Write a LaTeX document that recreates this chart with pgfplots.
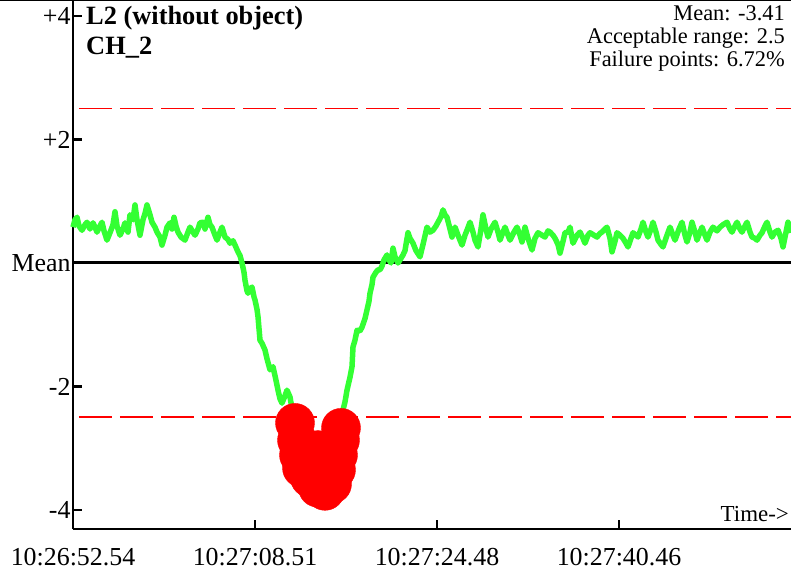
\documentclass[border=0pt]{standalone}
\usepackage{pgfplots}
\pgfplotsset{compat=1.18}
\usepackage{pgfplotstable}
\usepackage{fontspec}
\setmainfont{Liberation Serif}
\definecolor{sig}{RGB}{51,255,51}
\pgfplotstableread{
x y
0 0.58
2 0.70
4 0.74
6 0.60
9 0.53
12 0.62
14 0.66
17 0.55
20 0.65
22 0.58
24 0.50
27 0.60
29 0.66
31 0.52
34 0.37
37 0.49
40 0.62
42 0.83
44 0.60
47 0.45
50 0.55
52 0.65
55 0.50
57 0.78
60 0.70
62 0.94
64 0.70
67 0.45
70 0.70
72 0.80
74 0.94
77 0.78
79 0.66
82 0.58
84 0.50
87 0.42
89 0.29
92 0.45
94 0.58
97 0.65
99 0.55
101 0.74
103 0.60
105 0.50
108 0.42
112 0.37
115 0.50
117 0.58
120 0.50
122 0.45
125 0.55
127 0.65
130 0.66
132 0.55
135 0.74
137 0.62
139 0.58
142 0.45
144 0.37
147 0.50
149 0.58
152 0.42
155 0.38
157 0.32
160 0.36
162 0.29
165 0.18
167 0.12
169 0.00
171 -0.15
172 -0.28
174 -0.45
175 -0.49
177 -0.42
179 -0.39
181 -0.55
182 -0.60
184 -0.75
185 -0.87
187 -1.25
189 -1.30
192 -1.41
194 -1.55
197 -1.73
200 -1.68
203 -1.90
205 -2.06
207 -2.20
209 -2.27
212 -2.15
214 -2.06
217 -2.17
220 -2.45
223 -2.59
225 -2.87
227 -3.11
230 -3.32
237 -3.48
245 -3.64
252 -3.69
259 -3.58
263 -3.35
265 -3.11
267 -2.87
268 -2.67
270 -2.38
272 -2.25
274 -2.06
277 -1.85
279 -1.68
280 -1.36
282 -1.25
284 -1.09
287 -1.10
289 -1.04
292 -0.90
294 -0.76
296 -0.62
297 -0.49
299 -0.35
300 -0.23
303 -0.15
305 -0.11
307 -0.11
309 -0.05
311 0.05
314 0.13
316 0.05
318 0.00
320 0.24
322 0.10
325 0.00
327 0.05
330 0.13
332 0.20
335 0.49
337 0.40
340 0.32
343 0.20
347 0.10
350 0.30
354 0.58
357 0.50
360 0.53
363 0.60
365 0.66
368 0.75
370 0.86
372 0.78
374 0.74
377 0.55
379 0.42
382 0.58
385 0.45
389 0.29
392 0.45
394 0.53
397 0.66
400 0.50
402 0.37
405 0.26
408 0.55
410 0.78
413 0.55
415 0.42
418 0.55
422 0.66
425 0.50
427 0.37
430 0.50
432 0.58
435 0.45
437 0.37
441 0.50
444 0.58
447 0.45
449 0.34
452 0.58
455 0.40
459 0.21
462 0.40
465 0.49
469 0.45
472 0.42
475 0.52
477 0.50
480 0.45
482 0.40
485 0.30
487 0.16
490 0.35
492 0.49
495 0.50
497 0.58
500 0.32
504 0.45
507 0.50
510 0.40
512 0.32
515 0.45
517 0.49
521 0.45
524 0.42
527 0.48
529 0.50
532 0.55
534 0.58
537 0.40
539 0.18
542 0.35
544 0.49
547 0.45
550 0.40
553 0.32
555 0.26
558 0.40
560 0.49
563 0.45
565 0.42
568 0.55
570 0.66
573 0.50
575 0.42
578 0.55
580 0.66
583 0.50
585 0.37
588 0.30
590 0.26
594 0.45
597 0.58
600 0.45
602 0.37
606 0.55
609 0.66
612 0.45
614 0.34
617 0.50
619 0.66
622 0.50
624 0.37
627 0.50
629 0.58
632 0.45
634 0.37
637 0.50
640 0.58
644 0.52
647 0.58
650 0.62
654 0.66
657 0.55
659 0.50
662 0.60
664 0.66
667 0.55
669 0.50
672 0.60
674 0.66
677 0.50
679 0.42
682 0.40
684 0.37
687 0.45
689 0.49
692 0.60
694 0.66
697 0.50
699 0.42
702 0.50
705 0.53
708 0.40
710 0.26
713 0.50
715 0.66
717 0.55
718 0.49
}\signal
\pgfplotstableread{
x y
222 -2.59
224 -2.87
226 -3.11
229 -3.32
237 -3.24
237 -3.48
245 -3.03
245 -3.64
252 -3.69
252 -3.20
259 -3.58
263 -3.35
265 -3.11
267 -2.87
268 -2.67
}\failures
\begin{document}
\begin{tikzpicture}
\begin{axis}[
  scale only axis,
  width=718bp, height=529bp,
  xmin=0, xmax=718,
  ymin=-4.308, ymax=4.259,
  axis x line*=bottom, axis y line*=left,
  axis line style={line width=2.5bp, black},
  xtick={0,182,364,546},
  xticklabels={10:26:52.54,10:27:08.51,10:27:24.48,10:27:40.46},
  ytick={-4,-2,0,2,4},
  yticklabels={-4,-2,Mean,+2,+4},
  tick align=inside,
  major tick length=9bp,
  tick style={line width=2.5bp, black},
  ticklabel style={font=\fontsize{26}{30}\selectfont},
  xticklabel style={yshift=-16bp},
  yticklabel style={xshift=1bp},
  clip=false,
]
\addplot[color=red, line width=1.6bp, dash pattern=on 33bp off 8bp, dash phase=35bp] coordinates {(0,2.5)(718,2.5)};
\addplot[color=red, line width=1.6bp, dash pattern=on 33bp off 8bp, dash phase=35bp] coordinates {(0,-2.49)(718,-2.49)};
\addplot[color=black, line width=3bp] coordinates {(0,0)(718,0)};
\addplot[color=sig, line width=5.5bp, line join=round] table[x=x,y=y] {\signal};
\addplot[only marks, mark=*, mark size=19.5bp, color=red, mark options={draw=red, fill=red}] table[x=x,y=y] {\failures};
\node[anchor=north west, inner sep=0pt, align=left, font=\fontsize{26.5}{30}\selectfont\bfseries]
  at ([xshift=13bp,yshift=-6bp]rel axis cs:0,1) {L2 (without object)\\CH\_2};
\node[anchor=north east, inner sep=0pt, align=right, font=\fontsize{22.5}{23.5}\selectfont]
  at ([xshift=-6bp,yshift=-5bp]rel axis cs:1,1) {Mean: -3.41\\Acceptable range: 2.5\\Failure points: 6.72\%};
\node[anchor=south east, inner sep=0pt, font=\fontsize{23}{26}\selectfont]
  at ([xshift=-2bp,yshift=7bp]rel axis cs:1,0) {Time->};
\end{axis}
\draw[line width=2.5bp] ([xshift=-80bp]current axis.north west) -- ([xshift=5bp]current axis.north east);
\pgfresetboundingbox
\path[use as bounding box] ([xshift=-73bp,yshift=-53bp]current axis.south west) rectangle (current axis.north east);
\end{tikzpicture}
\end{document}
